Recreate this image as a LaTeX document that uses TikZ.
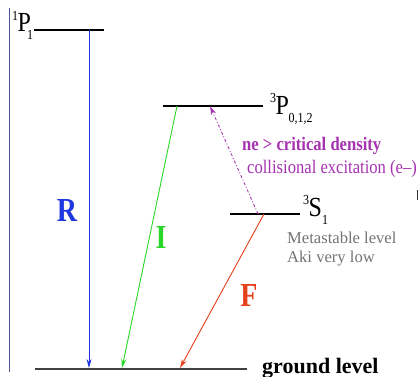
\documentclass[tikz,border=0pt]{standalone}
\usepackage{fontspec}
\setmainfont{Liberation Serif}
\usetikzlibrary{arrows.meta}
\definecolor{rblue}{RGB}{30,55,225}
\definecolor{igreen}{RGB}{40,215,40}
\definecolor{fred}{RGB}{230,65,30}
\definecolor{cpurple}{RGB}{165,50,175}
\definecolor{mgray}{RGB}{115,115,115}
\definecolor{edgeline}{RGB}{80,85,150}
\tikzset{
  level/.style={line width=1.4pt,black},
  trans/.style={line width=0.9pt,-{Stealth[length=9pt,width=5pt]}},
  big/.style={font=\fontsize{28}{28}\selectfont\bfseries,yscale=1.2,transform shape,inner sep=0pt},
  term/.style={font=\fontsize{24}{24}\selectfont,anchor=base west,inner sep=0pt,yscale=1.15,transform shape},
  note/.style={font=\fontsize{16.6}{18}\selectfont,anchor=base west,inner sep=0pt}
}
\begin{document}
\begin{tikzpicture}[x=1pt,y=-1pt]
\useasboundingbox (0,0) rectangle (419,376);
% left border line
\draw[edgeline,line width=0.8pt] (9,8) -- (9,372);
% levels
\coordinate (P1a) at (34,30);  \coordinate (P1b) at (104,30);
\coordinate (P3a) at (163,106); \coordinate (P3b) at (263,106);
\coordinate (S3a) at (230,214); \coordinate (S3b) at (300,214);
\coordinate (Ga) at (35,369);  \coordinate (Gb) at (247,369);
\draw[level] (P1a) -- (P1b);
\draw[level] (P3a) -- (P3b);
\draw[level] (S3a) -- (S3b);
\draw[line width=1.1pt,black!75] (Ga) -- (Gb);
% level labels
\node[term] (l1P1) at (12,31) {\raisebox{9pt}{\fontsize{12}{12}\selectfont 1}\kern-0.5ptP\kern-4pt\raisebox{-7pt}{\fontsize{12}{12}\selectfont 1}};
\node[term] (l3P) at (270,114) {\raisebox{10pt}{\fontsize{12}{12}\selectfont 3}\kern-0.5ptP\kern-0.5pt\raisebox{-7pt}{\fontsize{12}{12}\selectfont 0,1,2}};
\node[term] (l3S) at (303,216) {\raisebox{10pt}{\fontsize{12}{12}\selectfont 3}\kern-0.5ptS\raisebox{-7pt}{\fontsize{12}{12}\selectfont 1}};
\node[font=\fontsize{22}{22}\selectfont\bfseries,anchor=base west,inner sep=0pt] (gl) at (262,373) {ground level};
% transition end points
\coordinate (Rs) at (89,30);   \coordinate (Re) at (89,368);
\coordinate (Is) at (177,106); \coordinate (Ie) at (122,368);
\coordinate (Fs) at (264,214); \coordinate (Fe) at (180,368);
\coordinate (Cs) at (258,214); \coordinate (Ce) at (210,106);
\draw[trans,rblue] (Rs) -- (Re);
\draw[trans,igreen] (Is) -- (Ie);
\draw[trans,fred] (Fs) -- (Fe);
\draw[line width=0.9pt,cpurple,dash dot,-{Stealth[length=9pt,width=5pt]}] (Cs) -- (Ce);
% transition labels
\node[big,text=rblue] (R) at (67,210) {R};
\node[big,text=igreen] (I) at (161,237) {I};
\node[big,text=fred] (F) at (249,295) {F};
% notes
\node[note,font=\fontsize{16.6}{18}\selectfont\bfseries,text=cpurple,yscale=1.15,transform shape] (ne) at (242,150) {ne > critical density};
\node[note,text=cpurple,yscale=1.15,transform shape] (ce) at (247,173) {collisional excitation (e–)};
\node[note,text=mgray] (ml) at (287,243) {Metastable level};
\node[note,text=mgray] (aki) at (287,262) {Aki very low};
% clipped mark at right edge
\draw[black!80,line width=1.2pt] (417.5,190) -- (417.5,200);
\end{tikzpicture}
\end{document}
